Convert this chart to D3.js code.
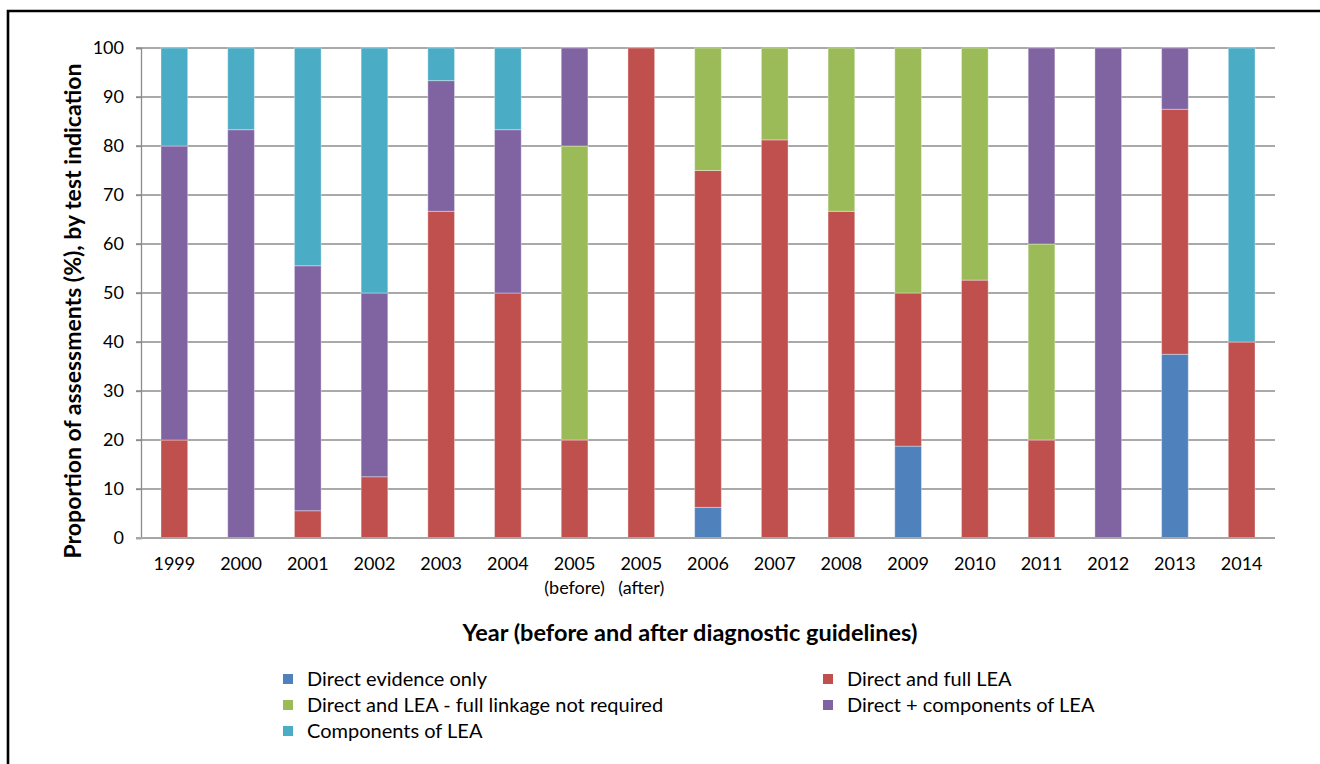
<!DOCTYPE html>
<html>
<head>
<meta charset="utf-8">
<script src="https://cdn.jsdelivr.net/npm/d3@7"></script>
<style>
  html, body { margin: 0; padding: 0; background: #fff; overflow: hidden; }
  svg { display: block; }
  text { font-family: Lato, "Open Sans", sans-serif; fill: #000; }
</style>
</head>
<body>
<svg id="chart" width="1320" height="764"></svg>
<script>
// Categories (year; second line used only for the 2005 split)
const categories = ["1999", "2000", "2001", "2002", "2003", "2004", "2005a", "2005b",
  "2006", "2007", "2008", "2009", "2010", "2011", "2012", "2013", "2014"];
const tickLine1 = ["1999", "2000", "2001", "2002", "2003", "2004", "2005", "2005",
  "2006", "2007", "2008", "2009", "2010", "2011", "2012", "2013", "2014"];
const tickLine2 = ["", "", "", "", "", "", "(before)", "(after)",
  "", "", "", "", "", "", "", "", ""];

const seriesNames = ["Direct evidence only", "Direct and full LEA",
  "Direct and LEA - full linkage not required", "Direct + components of LEA",
  "Components of LEA"];

// Percentages by test indication
const directOnly      = [0, 0, 0, 0, 0, 0, 0, 0, 6.25, 0, 0, 18.75, 0, 0, 0, 37.5, 0];
const directFullLEA   = [20, 0, 5.56, 12.5, 66.67, 50, 20, 100, 68.75, 81.25, 66.67, 31.25, 52.63, 20, 0, 50, 40];
const directLEANoLink = [0, 0, 0, 0, 0, 0, 60, 0, 25, 18.75, 33.33, 50, 47.37, 40, 0, 0, 0];
const directComponents= [60, 83.33, 50, 37.5, 26.67, 33.33, 20, 0, 0, 0, 0, 0, 0, 40, 100, 12.5, 0];
const componentsLEA   = [20, 16.67, 44.44, 50, 6.67, 16.67, 0, 0, 0, 0, 0, 0, 0, 0, 0, 0, 60];

const yTicks = [0, 10, 20, 30, 40, 50, 60, 70, 80, 90, 100];
const colors = ["#4F81BD", "#C0504D", "#9BBB59", "#8064A2", "#4BACC6"];

const seriesValues = [directOnly, directFullLEA, directLEANoLink, directComponents, componentsLEA];
const table = categories.map((c, i) => {
  const row = { cat: c };
  seriesNames.forEach((s, k) => { row[s] = seriesValues[k][i]; });
  return row;
});

const svg = d3.select("#chart");

// Frame around the chart (open to the right and bottom)
svg.append("path")
  .attr("d", "M8,770 L8,11 L1330,11")
  .attr("fill", "none").attr("stroke", "#000").attr("stroke-width", 2.6);

const plotL = 141, plotR = 1275, plotT = 48, plotB = 538;
const x = d3.scaleBand().domain(categories).range([plotL, plotR]).paddingInner(0.6).paddingOuter(0.3);
const y = d3.scaleLinear().domain([0, 100]).range([plotB, plotT]);

// Horizontal gridlines
svg.append("g").selectAll("line").data(yTicks.filter(t => t > 0)).join("line")
  .attr("x1", plotL - 5).attr("x2", plotR)
  .attr("y1", d => y(d)).attr("y2", d => y(d))
  .attr("stroke", "#8c8c8c").attr("stroke-width", 1.3);

// Stacked bars
const stack = d3.stack().keys(seriesNames)(table);
svg.append("g").selectAll("g").data(stack).join("g")
  .attr("fill", (d, i) => colors[i])
  .selectAll("rect").data(d => d.filter(p => p[1] - p[0] > 0)).join("rect")
  .attr("x", d => x(d.data.cat))
  .attr("width", x.bandwidth())
  .attr("y", d => y(d[1]))
  .attr("height", d => y(d[0]) - y(d[1]))
  .attr("stroke", "#ffffff").attr("stroke-opacity", 0.35).attr("stroke-width", 1);

// Y axis
const yAxis = svg.append("g").attr("transform", `translate(${plotL},0)`)
  .call(d3.axisLeft(y).tickValues(yTicks).tickSize(5).tickPadding(12));
yAxis.select(".domain").attr("stroke", "#8c8c8c").attr("stroke-width", 1.3);
yAxis.selectAll(".tick line").attr("stroke", "#8c8c8c").attr("stroke-width", 1.3);
yAxis.selectAll(".tick text").style("font-size", "18px").style("font-family", "Lato, sans-serif").attr("fill", "#000");

// X axis baseline
svg.append("line").attr("x1", plotL - 5).attr("x2", plotR)
  .attr("y1", plotB).attr("y2", plotB)
  .attr("stroke", "#a6a6a6").attr("stroke-width", 2);

// X tick labels
const xl = svg.append("g");
xl.selectAll("text.l1").data(categories).join("text").attr("class", "l1")
  .attr("x", d => x(d) + x.bandwidth() / 2).attr("y", 570)
  .attr("text-anchor", "middle").style("font-size", "18px")
  .text((d, i) => tickLine1[i]);
xl.selectAll("text.l2").data(categories).join("text").attr("class", "l2")
  .attr("x", d => x(d) + x.bandwidth() / 2).attr("y", 594)
  .attr("text-anchor", "middle").style("font-size", "18px")
  .text((d, i) => tickLine2[i]);

// Axis titles
svg.append("text").attr("transform", `translate(81,${(plotT + plotB) / 2 + 18}) rotate(-90)`)
  .attr("text-anchor", "middle").style("font-size", "23px").style("font-weight", "bold")
  .text("Proportion of assessments (%), by test indication");
svg.append("text").attr("x", 690).attr("y", 641)
  .attr("text-anchor", "middle").style("font-size", "23.5px").style("font-weight", "bold")
  .text("Year (before and after diagnostic guidelines)");

// Legend
const legendPos = [[283, 679], [823, 679], [283, 705], [823, 705], [283, 731]];
const lg = svg.append("g").selectAll("g").data(seriesNames).join("g")
  .attr("transform", (d, i) => `translate(${legendPos[i][0]},${legendPos[i][1]})`);
lg.append("rect").attr("x", 0).attr("y", -5).attr("width", 10).attr("height", 10)
  .attr("fill", (d, i) => colors[i]);
lg.append("text").attr("x", 24).attr("y", 7).style("font-size", "20px").text(d => d);
</script>
</body>
</html>
